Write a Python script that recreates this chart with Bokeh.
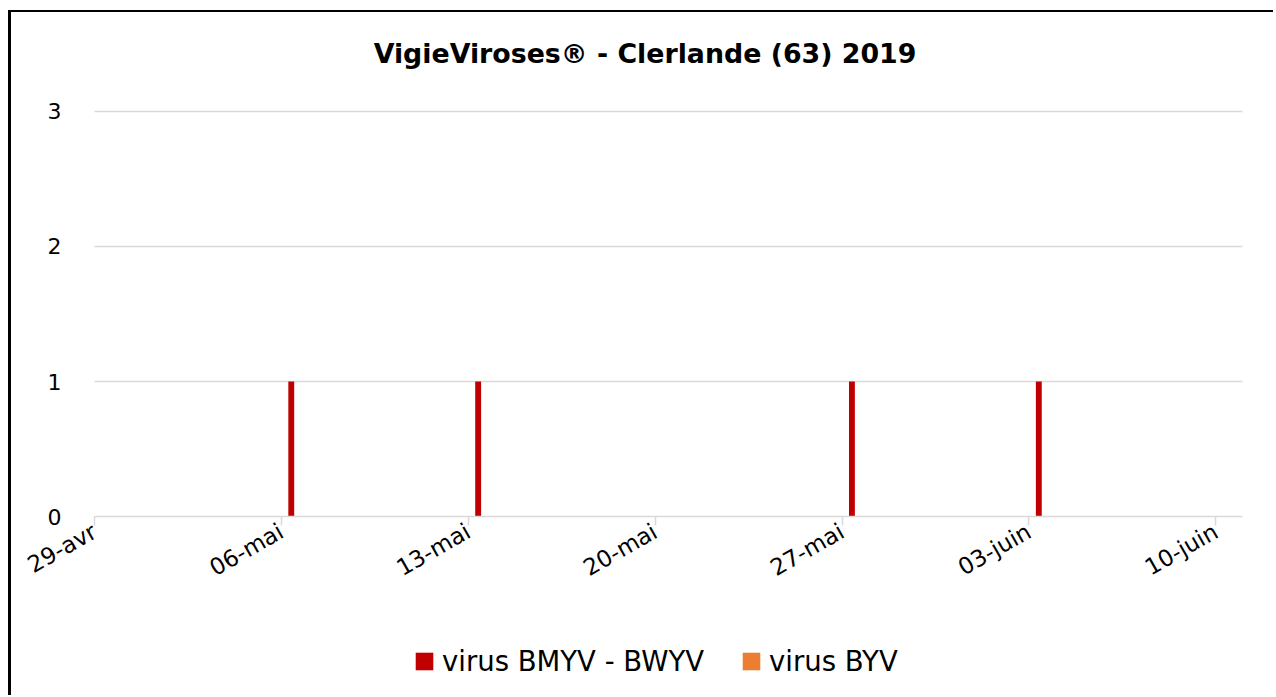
import pandas as pd
from bokeh.plotting import figure
from bokeh.models import (Range1d, FixedTicker, CustomJSTickFormatter, Legend, LegendItem,
                          Label, ColumnDataSource)
from bokeh.transform import dodge
from bokeh.embed import file_html
from bokeh.resources import INLINE

# ---- data ----
title_text = "VigieViroses® - Clerlande (63) 2019"
tick_dates = ["2019-04-29", "2019-05-06", "2019-05-13", "2019-05-20",
              "2019-05-27", "2019-06-03", "2019-06-10"]
obs_dates = ["2019-05-06", "2019-05-13", "2019-05-27", "2019-06-03"]
bmyv_bwyv = [1, 1, 1, 1]
byv = [0, 0, 0, 0]
y_ticks = [0, 1, 2, 3]
series_names = ["virus BMYV - BWYV", "virus BYV"]
series_colors = ["#c00000", "#ed7d31"]

DAY = pd.Timedelta(days=1)
DAY_MS = 86400000.0
FONT = "DejaVu Sans"
GRID = "#d9d9d9"

axis_start = pd.Timestamp("2019-04-29")
axis_end = pd.Timestamp("2019-06-11")

# frame covers the whole canvas; axes are placed at fixed locations inside it
p = figure(width=1265, height=685, x_axis_type="datetime",
           x_range=Range1d(start=axis_start - 3.1088 * DAY, end=axis_start + 44.273 * DAY),
           y_range=Range1d(-1.3407, 3.7333),
           output_backend="svg", toolbar_location=None,
           min_border_left=0, min_border_right=0, min_border_top=0, min_border_bottom=0)
p.styles = {"margin-left": "8px", "margin-top": "10px",
            "border-left": "3px solid #000000", "border-top": "2px solid #000000"}
p.outline_line_color = None
p.background_fill_color = "white"
p.border_fill_color = "white"
p.xgrid.visible = False
p.ygrid.visible = False

# horizontal gridlines at the y ticks, spanning the axis extent
grid_y = y_ticks[1:]
p.segment(x0=[axis_start] * len(grid_y), x1=[axis_end] * len(grid_y), y0=grid_y, y1=grid_y,
          line_color=GRID, line_width=1.5)

src = ColumnDataSource(dict(x=pd.to_datetime(obs_dates), a=bmyv_bwyv, b=byv))
r1 = p.vbar(x=dodge("x", 0.37 * DAY_MS), top="a", bottom=0, width=0.22 * DAY_MS,
            source=src, fill_color=series_colors[0], line_color=None)
r2 = p.vbar(x=dodge("x", 0.37 * DAY_MS), top="b", bottom=0, width=0.22 * DAY_MS,
            source=src, fill_color=series_colors[1], line_color=None)

# x axis
xa = p.xaxis[0]
xa.fixed_location = 0
xa.bounds = (axis_start.to_pydatetime(), axis_end.to_pydatetime())
xa.ticker = FixedTicker(ticks=[pd.Timestamp(d).value / 1e6 for d in tick_dates])
xa.formatter = CustomJSTickFormatter(code="""
const m=['janv','févr','mars','avr','mai','juin','juil','août','sept','oct','nov','déc'];
const d=new Date(tick);
return String(d.getUTCDate()).padStart(2,'0')+'-'+m[d.getUTCMonth()];
""")
xa.axis_line_color = GRID
xa.axis_line_width = 1.5
xa.major_tick_line_color = GRID
xa.major_tick_line_width = 1.5
xa.major_tick_in = 0
xa.major_tick_out = 9
xa.minor_tick_line_color = None
xa.major_label_orientation = 0.52
xa.major_label_text_font = FONT
xa.major_label_text_font_size = "23px"
xa.major_label_text_color = "#000000"
xa.major_label_standoff = 4

# y axis
ya = p.yaxis[0]
ya.fixed_location = axis_start.value / 1e6
ya.ticker = FixedTicker(ticks=y_ticks)
ya.axis_line_color = None
ya.major_tick_line_color = None
ya.minor_tick_line_color = None
ya.major_label_text_font = FONT
ya.major_label_text_font_size = "22px"
ya.major_label_text_color = "#000000"
ya.major_label_standoff = 27

# title
title = Label(x=axis_start.value / 1e6 + 20.62 * DAY_MS, y=3.432, text=title_text,
              text_font=FONT, text_font_size="26.8px", text_font_style="bold",
              text_align="center", text_baseline="alphabetic", text_color="#000000")
p.add_layout(title)

# legend under the axis labels
legend = Legend(items=[LegendItem(label=series_names[0], renderers=[r1]),
                       LegendItem(label=series_names[1], renderers=[r2])],
                orientation="horizontal", location=(402, 20),
                glyph_width=22, glyph_height=22, label_standoff=7, spacing=36,
                padding=0, margin=0, border_line_color=None, background_fill_alpha=0,
                label_text_font=FONT, label_text_font_size="27.5px", label_text_color="#000000")
p.add_layout(legend, "center")

open("out.html", "w").write(file_html(p, INLINE))
